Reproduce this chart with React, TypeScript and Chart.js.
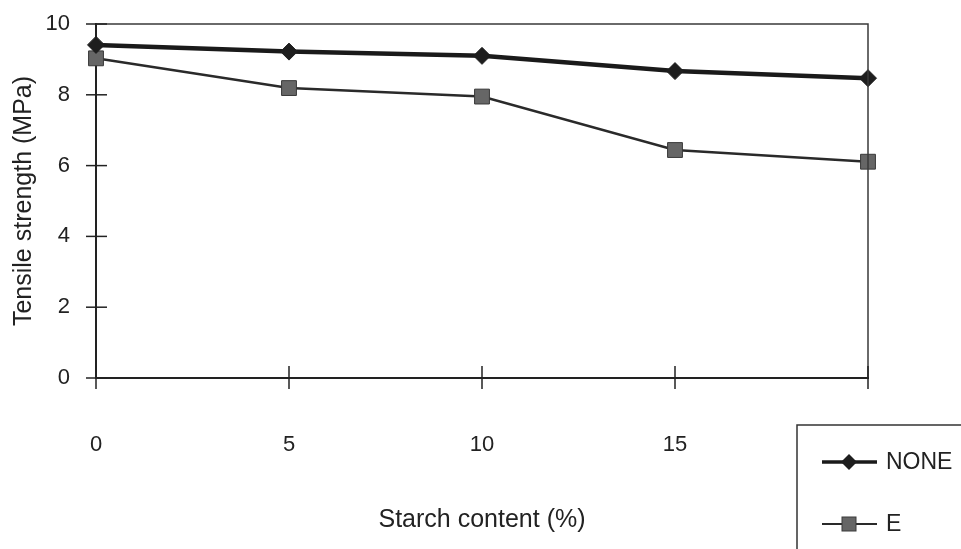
import React, { useEffect, useRef } from "react";
import { Chart, registerables } from "chart.js";

Chart.register(...registerables);

const starchContent = [0, 5, 10, 15, 20];
const noneValues = [9.41, 9.22, 9.1, 8.67, 8.47];
const eValues = [9.03, 8.19, 7.95, 6.44, 6.11];
const seriesLabels = ["NONE", "E"];
const xTitle = "Starch content (%)";
const yTitle = "Tensile strength (MPa)";

const FONT = "'Liberation Sans', Arial, Helvetica, sans-serif";

const decorPlugin = {
  id: "decor",
  afterDraw(chart: any) {
    const { ctx, chartArea, scales } = chart;
    const { left, right, top, bottom } = chartArea;
    const xs = scales.x;
    const ys = scales.y;
    ctx.save();
    // top + right frame
    ctx.strokeStyle = "#3a3a3a";
    ctx.lineWidth = 1.5;
    ctx.beginPath();
    ctx.moveTo(left, top);
    ctx.lineTo(right, top);
    ctx.lineTo(right, bottom);
    ctx.stroke();
    // cross ticks
    ctx.strokeStyle = "#222";
    ctx.lineWidth = 1.5;
    xs.ticks.forEach((t: any) => {
      const px = xs.getPixelForValue(t.value);
      ctx.beginPath();
      ctx.moveTo(px, bottom - 12);
      ctx.lineTo(px, bottom + 11);
      ctx.stroke();
    });
    ys.ticks.forEach((t: any) => {
      const py = ys.getPixelForValue(t.value);
      ctx.beginPath();
      ctx.moveTo(left - 10, py);
      ctx.lineTo(left + 11, py);
      ctx.stroke();
    });
    // legend box
    const bx = 797;
    const by = 425;
    ctx.fillStyle = "#ffffff";
    ctx.fillRect(bx, by, 200, 200);
    ctx.strokeStyle = "#333";
    ctx.lineWidth = 1.5;
    ctx.beginPath();
    ctx.moveTo(bx, 600);
    ctx.lineTo(bx, by);
    ctx.lineTo(1000, by);
    ctx.stroke();
    const rows = [462, 524];
    chart.data.datasets.forEach((ds: any, i: number) => {
      const yy = rows[i];
      ctx.strokeStyle = ds.borderColor;
      ctx.lineWidth = i === 0 ? 3.5 : 2;
      ctx.beginPath();
      ctx.moveTo(822, yy);
      ctx.lineTo(877, yy);
      ctx.stroke();
      ctx.fillStyle = ds.pointBackgroundColor;
      ctx.strokeStyle = ds.pointBorderColor;
      ctx.lineWidth = 1;
      if (ds.pointStyle === "rectRot") {
        ctx.beginPath();
        ctx.moveTo(849, yy - 8);
        ctx.lineTo(857, yy);
        ctx.lineTo(849, yy + 8);
        ctx.lineTo(841, yy);
        ctx.closePath();
        ctx.fill();
      } else {
        ctx.fillRect(842, yy - 7, 14, 14);
        ctx.strokeRect(842, yy - 7, 14, 14);
      }
      ctx.fillStyle = "#222";
      ctx.font = `23px ${FONT}`;
      ctx.textAlign = "left";
      ctx.textBaseline = "middle";
      ctx.fillText(ds.label, 886, yy + 1);
    });
    ctx.restore();
  },
};

export default function App() {
  const ref = useRef<HTMLCanvasElement | null>(null);
  useEffect(() => {
    if (!ref.current) return;
    const chart = new Chart(ref.current, {
      type: "line",
      data: {
        datasets: [
          {
            label: seriesLabels[0],
            data: starchContent.map((x, i) => ({ x, y: noneValues[i] })),
            borderColor: "#1a1a1a",
            borderWidth: 4.5,
            pointStyle: "rectRot",
            pointRadius: 8.5,
            pointBackgroundColor: "#1e1e1e",
            pointBorderColor: "#1e1e1e",
            pointBorderWidth: 1,
            tension: 0,
            clip: false,
          } as any,
          {
            label: seriesLabels[1],
            data: starchContent.map((x, i) => ({ x, y: eValues[i] })),
            borderColor: "#2a2a2a",
            borderWidth: 2.5,
            pointStyle: "rect",
            pointRadius: 10.5,
            pointBackgroundColor: "#666666",
            pointBorderColor: "#3a3a3a",
            pointBorderWidth: 1,
            tension: 0,
            clip: false,
          } as any,
        ],
      },
      options: {
        animation: false,
        responsive: true,
        maintainAspectRatio: false,
        layout: { padding: { top: 24, right: 93, left: 0, bottom: 0 } },
        plugins: {
          legend: { display: false },
          tooltip: { enabled: false },
        },
        scales: {
          x: {
            type: "linear",
            min: 0,
            max: 20,
            afterFit: (s: any) => {
              s.height = 171;
              s.paddingLeft = 0;
              s.paddingRight = 0;
            },
            ticks: {
              stepSize: 5,
              padding: 54,
              color: "#222",
              font: { family: FONT, size: 22 },
            },
            grid: { display: true, drawOnChartArea: false, drawTicks: false },
            border: { display: true, color: "#222", width: 2 },
            title: {
              display: true,
              text: xTitle,
              color: "#222",
              font: { family: FONT, size: 25 },
              padding: { top: 0, bottom: 14 },
            },
          },
          y: {
            type: "linear",
            min: 0,
            max: 10,
            afterFit: (s: any) => {
              s.width = 96;
              s.paddingTop = 0;
              s.paddingBottom = 0;
            },
            ticks: {
              stepSize: 2,
              padding: 26,
              color: "#222",
              font: { family: FONT, size: 22 },
            },
            grid: { display: true, drawOnChartArea: false, drawTicks: false },
            border: { display: true, color: "#222", width: 2 },
            title: {
              display: true,
              text: yTitle,
              color: "#222",
              font: { family: FONT, size: 25 },
              padding: { top: 9, bottom: 0 },
            },
          },
        },
      } as any,
      plugins: [decorPlugin],
    });
    return () => chart.destroy();
  }, []);
  return (
    <div style={{ position: "absolute", left: 0, top: 0, width: 961, height: 549, background: "#fff" }}>
      <canvas ref={ref} />
    </div>
  );
}
